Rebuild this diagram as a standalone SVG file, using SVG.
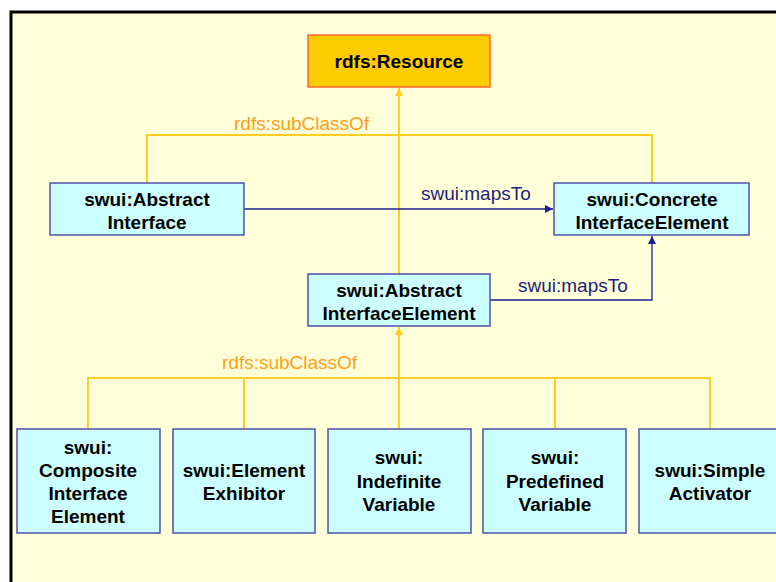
<svg xmlns="http://www.w3.org/2000/svg" width="776" height="582" viewBox="0 0 776 582">
  <style>
    .frame { fill: #FFFFD9; stroke: #000000; stroke-width: 3; }
    .cls { fill: #CCFFFF; stroke: #4F4FA8; stroke-width: 1.5; }
    .root { fill: #FFCC00; stroke: #FF6633; stroke-width: 1.5; }
    .name { font-family: "Liberation Sans", Arial, sans-serif; font-size: 19px; font-weight: bold; fill: #000000; text-anchor: middle; }
    .sub { fill: none; stroke: #FFCC22; stroke-width: 2; }
    .map { fill: none; stroke: #1F1F8F; stroke-width: 1.3; }
    .sublabel { font-family: "Liberation Sans", Arial, sans-serif; font-size: 19px; fill: #FF9E1A; }
    .maplabel { font-family: "Liberation Sans", Arial, sans-serif; font-size: 19px; fill: #22227A; }
  </style>
  <defs>
    <marker id="arrowSub" viewBox="0 0 8 8" refX="8" refY="4" markerWidth="8" markerHeight="8" markerUnits="userSpaceOnUse" orient="auto">
      <path d="M0,0 L8,4 L0,8 Z" fill="#FFCC22"/>
    </marker>
    <marker id="arrowMap" viewBox="0 0 8 8" refX="8" refY="4" markerWidth="8" markerHeight="8" markerUnits="userSpaceOnUse" orient="auto">
      <path d="M0,0 L8,4 L0,8 Z" fill="#1F1F8F"/>
    </marker>
  </defs>

  <!-- page frame -->
  <rect class="frame" x="11" y="12" width="780" height="590"/>

  <g id="connectors">
    <!-- subclass tree toward rdfs:Resource -->
    <path class="sub" d="M147,183 V135 H652 V183"/>
    <path class="sub" d="M399,274 V88" marker-end="url(#arrowSub)"/>
    <!-- subclass tree toward swui:AbstractInterfaceElement -->
    <path class="sub" d="M88,429 V378 H710 V429"/>
    <path class="sub" d="M244,378 V429"/>
    <path class="sub" d="M555,378 V429"/>
    <path class="sub" d="M399,429 V327" marker-end="url(#arrowSub)"/>
    <!-- mapsTo relations -->
    <path class="map" d="M244,209 H553" marker-end="url(#arrowMap)"/>
    <path class="map" d="M490,300 H652 V236" marker-end="url(#arrowMap)"/>
    <text class="sublabel" x="234" y="130">rdfs:subClassOf</text>
    <text class="sublabel" x="222" y="369">rdfs:subClassOf</text>
    <text class="maplabel" x="421" y="200">swui:mapsTo</text>
    <text class="maplabel" x="518" y="292">swui:mapsTo</text>
  </g>

  <g id="resource">
    <rect class="root" x="308" y="35" width="182" height="52"/>
    <text class="name" x="399" y="68">rdfs:Resource</text>
  </g>

  <g id="abstract-interface">
    <rect class="cls" x="50" y="183" width="194" height="52"/>
    <text class="name" x="147" y="206">swui:Abstract</text>
    <text class="name" x="147" y="229">Interface</text>
  </g>

  <g id="concrete-interface-element">
    <rect class="cls" x="554" y="183" width="195" height="52"/>
    <text class="name" x="652" y="206">swui:Concrete</text>
    <text class="name" x="652" y="229">InterfaceElement</text>
  </g>

  <g id="abstract-interface-element">
    <rect class="cls" x="308" y="274" width="182" height="52"/>
    <text class="name" x="399" y="297">swui:Abstract</text>
    <text class="name" x="399" y="320">InterfaceElement</text>
  </g>

  <g id="composite-interface-element">
    <rect class="cls" x="17" y="429" width="143" height="104"/>
    <text class="name" x="88" y="454">swui:</text>
    <text class="name" x="88" y="477">Composite</text>
    <text class="name" x="88" y="500">Interface</text>
    <text class="name" x="88" y="523">Element</text>
  </g>

  <g id="element-exhibitor">
    <rect class="cls" x="173" y="429" width="142" height="104"/>
    <text class="name" x="244" y="477">swui:Element</text>
    <text class="name" x="244" y="500">Exhibitor</text>
  </g>

  <g id="indefinite-variable">
    <rect class="cls" x="328" y="429" width="143" height="104"/>
    <text class="name" x="399" y="464">swui:</text>
    <text class="name" x="399" y="488">Indefinite</text>
    <text class="name" x="399" y="511">Variable</text>
  </g>

  <g id="predefined-variable">
    <rect class="cls" x="483" y="429" width="143" height="104"/>
    <text class="name" x="555" y="464">swui:</text>
    <text class="name" x="555" y="488">Predefined</text>
    <text class="name" x="555" y="511">Variable</text>
  </g>

  <g id="simple-activator">
    <rect class="cls" x="639" y="429" width="143" height="104"/>
    <text class="name" x="710" y="477">swui:Simple</text>
    <text class="name" x="710" y="500">Activator</text>
  </g>
</svg>
